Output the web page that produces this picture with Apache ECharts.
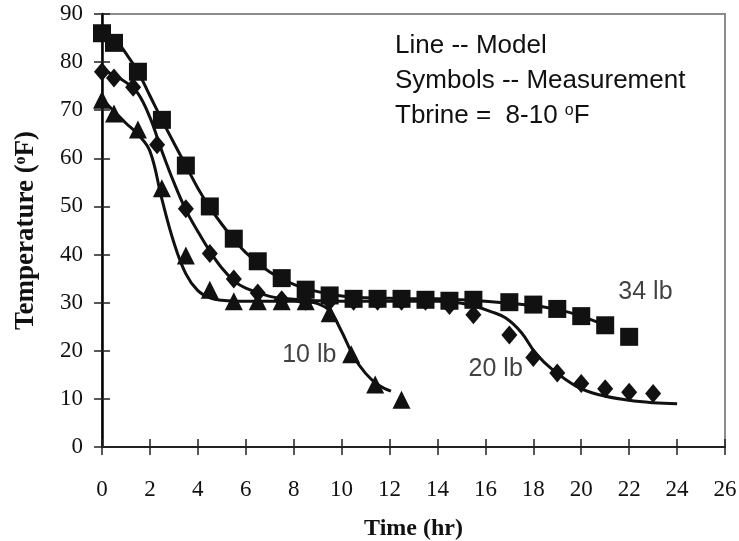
<!DOCTYPE html>
<html>
<head>
<meta charset="utf-8">
<script src="https://cdn.jsdelivr.net/npm/echarts@6/dist/echarts.min.js"></script>
<style>
html, body { margin: 0; padding: 0; background: #fff; }
#main { width: 739px; height: 541px; }
</style>
</head>
<body>
<div id="main"></div>
<script>
// measured points (symbols)
var sq34Time = [0, 0.5, 1.5, 2.5, 3.5, 4.5, 5.5, 6.5, 7.5, 8.5, 9.5, 10.5, 11.5, 12.5, 13.5, 14.5, 15.5, 17, 18, 19, 20, 21, 22];
var sq34Temp = [86, 84, 78, 68, 58.5, 50, 43.3, 38.6, 35.1, 32.7, 31.5, 30.8, 30.8, 30.8, 30.6, 30.4, 30.6, 30.1, 29.6, 28.7, 27.2, 25.3, 22.9];
var dm20Time = [0, 0.5, 1.3, 2.3, 3.5, 4.5, 5.5, 6.5, 7.5, 8.5, 9.5, 10.5, 11.5, 12.5, 13.5, 14.5, 15.5, 17, 18, 19, 20, 21, 22, 23];
var dm20Temp = [78, 76.7, 74.8, 62.8, 49.5, 40.2, 34.9, 32, 30.6, 30.3, 30.3, 30.3, 30.3, 30.3, 30.3, 29.4, 27.5, 23.3, 18.6, 15.4, 13.2, 12.1, 11.4, 11.1];
var tr10Time = [0, 0.5, 1.5, 2.5, 3.5, 4.5, 5.5, 6.5, 7.5, 8.5, 9.5, 10.4, 11.4, 12.5];
var tr10Temp = [72.2, 69.3, 66, 53.8, 39.8, 32.7, 30.3, 30.3, 30.3, 30.3, 27.8, 19.3, 13, 9.8];

// model curves (lines)
var m34Time = [0, 0.5, 1, 1.5, 2, 2.5, 3, 3.5, 4, 4.5, 5, 5.5, 6, 7, 8, 9, 10, 11, 12, 13, 14, 15, 16, 17, 18, 19, 20, 21, 21.2];
var m34Temp = [86.3, 85, 81.8, 78, 73, 68, 63.2, 58.5, 53.8, 49.8, 46.3, 43.2, 40.4, 36.4, 33.8, 32.3, 31.4, 31, 30.9, 30.8, 30.8, 30.6, 30.3, 29.9, 29.4, 28.6, 27.2, 25.3, 24.9];
var m20Time = [0, 0.5, 1, 1.5, 2, 2.5, 3, 3.5, 4, 4.5, 5, 5.5, 6, 7, 8, 9, 10, 12, 14, 15, 15.6, 16.2, 16.85, 17.5, 18.1, 18.8, 19.8, 20.7, 22, 23, 24];
var m20Temp = [78.3, 77.3, 75.8, 73.5, 68.5, 61.5, 55, 49.3, 44.8, 40.7, 37.2, 34.6, 33, 31.3, 30.7, 30.4, 30.3, 30.3, 30.3, 29.9, 29.2, 28.2, 26.8, 23.8, 19.5, 16.1, 12.6, 10.9, 9.7, 9.2, 9.0];
var m10Time = [0, 0.5, 1, 1.5, 2, 2.5, 3, 3.5, 4, 4.5, 5, 6, 7, 8, 8.5, 9, 9.5, 10, 10.5, 11, 11.5, 12.06];
var m10Temp = [72.3, 69.8, 67.3, 65, 61.5, 51.5, 42.5, 36, 32.5, 31, 30.5, 30.3, 30.3, 30.3, 30.2, 29.8, 28.3, 24, 18.8, 15.3, 13, 11.6];

// curve labels
var curveLabelText = ['34 lb', '20 lb', '10 lb'];
var curveLabelTime = [22.68, 16.43, 8.65];
var curveLabelTemp = [32.2, 16.2, 19.2];

var xTicks = { min: 0, max: 26, step: 2 };
var yTicks = { min: 0, max: 90, step: 10 };

function pairs(xs, ys) {
    var out = [];
    for (var i = 0; i < xs.length; i++) {
        out.push([xs[i], ys[i]]);
    }
    return out;
}

var serif = 'Liberation Serif, Times New Roman, serif';
var sans = 'Liberation Sans, Arial, sans-serif';
var ink = '#111';

function modelLine(xs, ys) {
    return {
        type: 'line',
        data: pairs(xs, ys),
        showSymbol: false,
        symbol: 'none',
        smooth: 0.4,
        lineStyle: { color: ink, width: 3 },
        z: 3,
        silent: true
    };
}

function measured(xs, ys, symbol, size) {
    return {
        type: 'scatter',
        data: pairs(xs, ys),
        symbol: symbol,
        symbolSize: size,
        itemStyle: { color: ink, opacity: 1 },
        z: 4,
        silent: true
    };
}

var labelData = [];
for (var i = 0; i < curveLabelText.length; i++) {
    labelData.push({ value: [curveLabelTime[i], curveLabelTemp[i]], name: curveLabelText[i] });
}

var option = {
    backgroundColor: '#fff',
    animation: false,
    grid: {
        left: 102, right: 14, top: 14, bottom: 94,
        outerBoundsMode: 'none',
        containLabel: false,
        show: true,
        borderColor: '#8c8c8c',
        borderWidth: 2,
        backgroundColor: 'transparent'
    },
    xAxis: [{
        type: 'value',
        min: xTicks.min, max: xTicks.max, interval: xTicks.step,
        axisLine: { show: true, onZero: false, lineStyle: { color: '#222', width: 2 } },
        axisTick: { show: true, length: 8, lineStyle: { color: '#222', width: 1.5 } },
        axisLabel: { fontFamily: serif, fontSize: 23, color: ink, margin: 31 },
        splitLine: { show: false },
        name: 'Time (hr)',
        nameLocation: 'middle',
        nameGap: 70,
        nameTextStyle: { fontFamily: serif, fontSize: 24, fontWeight: 'bold', color: ink }
    }, {
        type: 'value',
        min: xTicks.min, max: xTicks.max, interval: xTicks.step,
        position: 'bottom',
        axisLine: { show: false },
        axisTick: { show: true, inside: true, length: 8, lineStyle: { color: '#222', width: 1.5 } },
        axisLabel: { show: false },
        splitLine: { show: false }
    }],
    yAxis: [{
        type: 'value',
        min: yTicks.min, max: yTicks.max, interval: yTicks.step,
        axisLine: { show: true, onZero: false, lineStyle: { color: '#000', width: 2.5 } },
        axisTick: { show: true, length: 8, lineStyle: { color: '#222', width: 1.5 } },
        axisLabel: { fontFamily: serif, fontSize: 23, color: ink, margin: 19 },
        splitLine: { show: false },
        name: '{t|Temperature (}{s|o}{t|F)}',
        nameLocation: 'middle',
        nameGap: 62,
        nameTextStyle: {
            rich: {
                t: { fontFamily: serif, fontSize: 27, fontWeight: 'bold', color: ink },
                s: { fontFamily: serif, fontSize: 16, fontWeight: 'bold', color: ink, verticalAlign: 'top' }
            }
        }
    }, {
        type: 'value',
        min: yTicks.min, max: yTicks.max, interval: yTicks.step,
        position: 'left',
        axisLine: { show: false },
        axisTick: { show: true, inside: true, length: 8, lineStyle: { color: '#222', width: 1.5 } },
        axisLabel: { show: false },
        splitLine: { show: false }
    }],
    graphic: [{
        type: 'text',
        left: 395, top: 33,
        style: { text: 'Line -- Model', font: '26px ' + sans, fill: ink }
    }, {
        type: 'text',
        left: 395, top: 68,
        style: { text: 'Symbols -- Measurement', font: '26px ' + sans, fill: ink }
    }, {
        type: 'text',
        left: 395, top: 103,
        style: {
            text: '{t|Tbrine =  8-10 }{s|o}{t|F}',
            rich: {
                t: { font: '26px ' + sans, fill: ink },
                s: { font: '16px ' + sans, fill: ink, verticalAlign: 'top' }
            }
        }
    }],
    series: [
        modelLine(m34Time, m34Temp),
        modelLine(m20Time, m20Temp),
        modelLine(m10Time, m10Temp),
        measured(sq34Time, sq34Temp, 'rect', 18),
        measured(dm20Time, dm20Temp, 'diamond', [16, 19]),
        measured(tr10Time, tr10Temp, 'triangle', 18),
        {
            type: 'scatter',
            data: labelData,
            symbolSize: 0,
            silent: true,
            label: {
                show: true,
                position: 'inside',
                formatter: function (p) { return p.name; },
                fontFamily: sans,
                fontSize: 25,
                color: ink
            }
        }
    ]
};

var myChart = echarts.init(document.getElementById('main'));
myChart.setOption(option);
</script>
</body>
</html>
